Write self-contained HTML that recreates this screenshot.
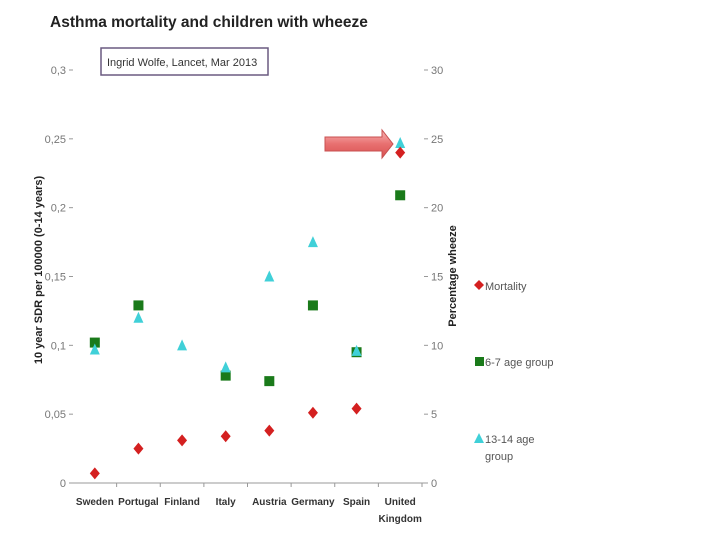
<!DOCTYPE html>
<html><head><meta charset="utf-8"><style>
html,body{margin:0;padding:0;background:#fff;}
svg{display:block;font-family:"Liberation Sans",sans-serif;}
</style></head><body>
<svg width="720" height="540" viewBox="0 0 720 540">
<defs><linearGradient id="ag" x1="0" y1="0" x2="0" y2="1"><stop offset="0" stop-color="#f8b4b4"/><stop offset="0.5" stop-color="#e87070"/><stop offset="1" stop-color="#d85050"/></linearGradient></defs>
<text x="50" y="27" font-size="15.5" font-weight="bold" fill="#222">Asthma mortality and children with wheeze</text>
<rect x="101" y="48" width="167" height="27" fill="#fff" stroke="#6a5a80" stroke-width="1.5"/>
<text x="107" y="66" font-size="11" fill="#333">Ingrid Wolfe, Lancet, Mar 2013</text>
<g id="axes"></g>
<g id="marks"></g>
<path d="M325,137 L382,137 L382,130 L393,144 L382,158 L382,151 L325,151 Z" fill="url(#ag)" stroke="#c85050" stroke-width="1"/>
<text transform="translate(42,270) rotate(-90)" text-anchor="middle" font-size="11" font-weight="bold" fill="#222">10 year SDR per 100000 (0-14 years)</text>
<text transform="translate(456,276) rotate(-90)" text-anchor="middle" font-size="11" font-weight="bold" fill="#222">Percentage wheeze</text>
<g>
<path d="M479,280 L484,285 L479,290 L474,285 Z" fill="#d42020"/>
<text x="485" y="290" font-size="11" fill="#555">Mortality</text>
<rect x="475" y="357" width="9" height="9" fill="#1a7a1a"/>
<text x="485" y="366" font-size="11" fill="#555">6-7 age group</text>
<path d="M474,443 L479,433 L484,443 Z" fill="#40d0d8"/>
<text x="485" y="443" font-size="11" fill="#555">13-14 age</text>
<text x="485" y="460" font-size="11" fill="#555">group</text>
</g>
</svg>
<script>
const categories=["Sweden","Portugal","Finland","Italy","Austria","Germany","Spain","United Kingdom"];
const mortality=[0.007,0.025,0.031,0.034,0.038,0.051,0.054,0.24];
const age67=[10.2,12.9,null,7.8,7.4,12.9,9.5,20.9];
const age1314=[9.7,12.0,10.0,8.4,15.0,17.5,9.6,24.7];
const leftTicks=["0","0,05","0,1","0,15","0,2","0,25","0,3"];
const leftTickVals=[0,0.05,0.1,0.15,0.2,0.25,0.3];
const rightTicks=[0,5,10,15,20,25,30];
const NS="http://www.w3.org/2000/svg";
const x0=71,x1=426,yb=483,yt=70,p0=73,p1=422;
const step=(p1-p0)/categories.length;
function xs(i){return p0+step*(i+0.5);}
function yl(v){return yb-(v/0.3)*(yb-yt);}
function yr(v){return yb-(v/30)*(yb-yt);}
function mk(tag,at){const e=document.createElementNS(NS,tag);for(const k in at)e.setAttribute(k,at[k]);return e;}
const ax=document.getElementById('axes'),mg=document.getElementById('marks');
let base=mk('line',{x1:x0,y1:yb,x2:x1,y2:yb,stroke:'#999','stroke-width':1});


ax.appendChild(base);
leftTickVals.forEach((v,i)=>{
 const t=mk('text',{x:66,y:yl(v)+4,'text-anchor':'end','font-size':11,fill:'#777'});
 t.textContent=leftTicks[i];
 
 
 ax.appendChild(t);
 const m=mk('line',{x1:69,y1:yl(v),x2:73,y2:yl(v),stroke:'#999'});
 
 
 ax.appendChild(m);
});
rightTicks.forEach(v=>{
 const t=mk('text',{x:431,y:yr(v)+4,'font-size':11,fill:'#777'});
 t.textContent=String(v);
 
 
 ax.appendChild(t);
 const m=mk('line',{x1:424,y1:yr(v),x2:428,y2:yr(v),stroke:'#999'});
 
 
 ax.appendChild(m);
});
categories.forEach((c,i)=>{
 const parts=c==="United Kingdom"?["United","Kingdom"]:[c];
 parts.forEach((p,j)=>{
  const t=mk('text',{x:xs(i),y:505+j*17,'text-anchor':'middle','font-size':10,'font-weight':'bold',fill:'#333'});
  t.textContent=p;
  
  
  ax.appendChild(t);
 });
 const tk=mk('line',{x1:p0+step*(i+1),y1:yb,x2:p0+step*(i+1),y2:yb+4,stroke:'#999'});
 
 
 ax.appendChild(tk);
});
age67.forEach((v,i)=>{
 if(v==null)return;
 const x=xs(i),y=yr(v);
 const r=mk('rect',{x:x-5,y:y-5,width:10,height:10,fill:'#1a7a1a'});
 
 
 mg.appendChild(r);
});
age1314.forEach((v,i)=>{
 const x=xs(i),y=yr(v);
 const p=mk('path',{d:`M${x-5},${y+5} L${x},${y-6} L${x+5},${y+5} Z`,fill:'#40d0d8'});
 
 
 mg.appendChild(p);
});
mortality.forEach((v,i)=>{
 const x=xs(i),y=yl(v);
 const p=mk('path',{d:`M${x},${y-6} L${x+5},${y} L${x},${y+6} L${x-5},${y} Z`,fill:'#d42020'});
 
 
 mg.appendChild(p);
});
</script>
</body></html>
